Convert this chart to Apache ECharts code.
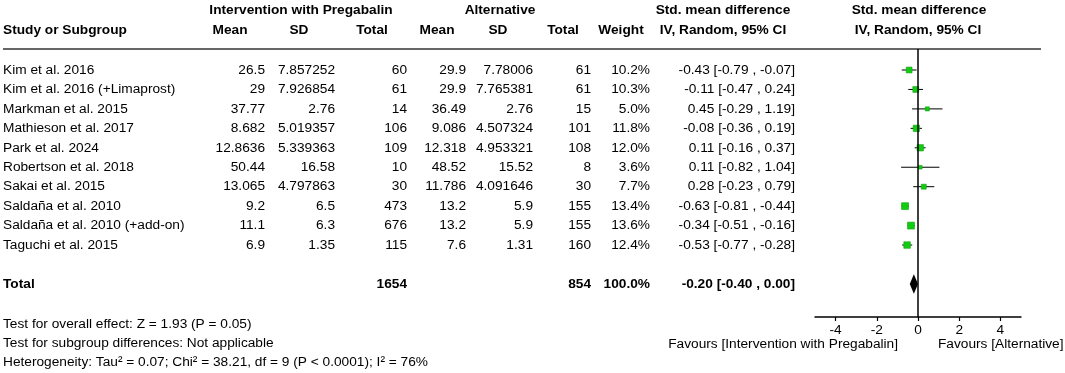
<!DOCTYPE html>
<html>
<head>
<meta charset="utf-8">
<title>Forest plot</title>
<script src="https://cdn.jsdelivr.net/npm/echarts@6.0.0/dist/echarts.min.js"></script>
<style>
  html, body { margin: 0; padding: 0; background: #fff; }
  #chart { width: 1065px; height: 373px; }
</style>
</head>
<body>
<div id="chart"></div>
<script>
// study rows
const studies = [
  "Kim et al. 2016",
  "Kim et al. 2016 (+Limaprost)",
  "Markman et al. 2015",
  "Mathieson et al. 2017",
  "Park et al. 2024",
  "Robertson et al. 2018",
  "Sakai et al. 2015",
  "Saldaña et al. 2010",
  "Saldaña et al. 2010 (+add-on)",
  "Taguchi et al. 2015"
];
const intMean = [26.5, 29, 37.77, 8.682, 12.8636, 50.44, 13.065, 9.2, 11.1, 6.9];
const intSD = [7.857252, 7.926854, 2.76, 5.019357, 5.339363, 16.58, 4.797863, 6.5, 6.3, 1.35];
const intTotal = [60, 61, 14, 106, 109, 10, 30, 473, 676, 115];
const altMean = [29.9, 29.9, 36.49, 9.086, 12.318, 48.52, 11.786, 13.2, 13.2, 7.6];
const altSD = [7.78006, 7.765381, 2.76, 4.507324, 4.953321, 15.52, 4.091646, 5.9, 5.9, 1.31];
const altTotal = [61, 61, 15, 101, 108, 8, 30, 155, 155, 160];
const weight = [10.2, 10.3, 5.0, 11.8, 12.0, 3.6, 7.7, 13.4, 13.6, 12.4];
const smd = [-0.43, -0.11, 0.45, -0.08, 0.11, 0.11, 0.28, -0.63, -0.34, -0.53];
const ciLow = [-0.79, -0.47, -0.29, -0.36, -0.16, -0.82, -0.23, -0.81, -0.51, -0.77];
const ciHigh = [-0.07, 0.24, 1.19, 0.19, 0.37, 1.04, 0.79, -0.44, -0.16, -0.28];

// pooled result
const totalIntN = 1654;
const totalAltN = 854;
const totalWeight = 100.0;
const pooled = [-0.20, -0.40, 0.00]; // est, low, high
const totalRow = 11;

const xTicks = [-4, -2, 0, 2, 4];
const footnotes = [
  "Test for overall effect: Z = 1.93 (P = 0.05)",
  "Test for subgroup differences: Not applicable",
  "Heterogeneity: Tau² = 0.07; Chi² = 38.21, df = 9 (P < 0.0001); I² = 76%"
];

const FONT = "'Liberation Sans', Arial, Helvetica, sans-serif";
const FS = 13.7;

const myChart = echarts.init(document.getElementById("chart"));

function ciText(e, l, h) {
  return e.toFixed(2) + " [" + l.toFixed(2) + " , " + h.toFixed(2) + "]";
}

myChart.setOption({
  animation: false,
  grid: { left: 815, width: 206, top: 49, height: 268 },
  xAxis: {
    type: "value",
    min: -5,
    max: 5,
    splitLine: { show: false },
    axisLine: { onZero: false, lineStyle: { color: "#000", width: 1.5 } },
    axisTick: { customValues: xTicks, length: 4, lineStyle: { color: "#000", width: 1.2 } },
    axisLabel: { customValues: xTicks, color: "#000", fontSize: FS, fontFamily: FONT, margin: 6 }
  },
  yAxis: {
    type: "value",
    inverse: true,
    min: -1.08,
    max: 12.7,
    show: false
  },
  series: [
    {
      // confidence intervals
      type: "custom",
      renderItem: function (params, api) {
        const a = api.coord([api.value(0), api.value(2)]);
        const b = api.coord([api.value(1), api.value(2)]);
        return {
          type: "line",
          shape: { x1: a[0], y1: a[1], x2: b[0], y2: b[1] },
          style: { stroke: "#000", lineWidth: 1 }
        };
      },
      data: studies.map((s, i) => [ciLow[i], ciHigh[i], i]),
      z: 2
    },
    {
      type: "scatter",
      symbol: "rect",
      symbolSize: function (v) { return 2.5 + weight[v[2]] * 0.33; },
      itemStyle: { color: "#11cc11", borderColor: "#0a9a0a", borderWidth: 0.5, opacity: 1 },
      data: studies.map((s, i) => [smd[i], i, i]),
      z: 3,
      markLine: {
        silent: true,
        symbol: "none",
        label: { show: false },
        lineStyle: { color: "#000", width: 1.5, type: "solid" },
        data: [{ xAxis: 0 }]
      }
    },
    {
      // pooled diamond
      type: "custom",
      renderItem: function (params, api) {
        const r = api.value(3);
        const left = api.coord([api.value(1), r]);
        const right = api.coord([api.value(2), r]);
        const top = api.coord([api.value(0), r - 0.5]);
        const bot = api.coord([api.value(0), r + 0.5]);
        return {
          type: "polygon",
          shape: { points: [left, top, right, bot] },
          style: { fill: "#000" }
        };
      },
      data: [[pooled[0], pooled[1], pooled[2], totalRow]],
      z: 4
    }
  ]
});

// table text placed on the same row scale
const rowY = r => myChart.convertToPixel({ yAxisIndex: 0 }, r);
const g = [];
function txt(str, x, y, align, bold) {
  g.push({
    type: "text",
    x: x, y: y,
    style: {
      text: String(str), fill: "#000",
      font: (bold ? "bold " : "") + FS + "px " + FONT,
      textAlign: align, textVerticalAlign: "middle"
    }
  });
}

// headers
txt("Intervention with Pregabalin", 301, 10, "center", true);
txt("Alternative", 500, 10, "center", true);
txt("Std. mean difference", 723, 10, "center", true);
txt("Std. mean difference", 919, 10, "center", true);
txt("Study or Subgroup", 3, 30, "left", true);
txt("Mean", 230, 30, "center", true);
txt("SD", 299, 30, "center", true);
txt("Total", 372, 30, "center", true);
txt("Mean", 437, 30, "center", true);
txt("SD", 498, 30, "center", true);
txt("Total", 563, 30, "center", true);
txt("Weight", 621, 30, "center", true);
txt("IV, Random, 95% CI", 723, 30, "center", true);
txt("IV, Random, 95% CI", 918, 30, "center", true);

g.push({
  type: "line",
  shape: { x1: 3, y1: 49, x2: 1041, y2: 49 },
  style: { stroke: "#666", lineWidth: 2 }
});

studies.forEach((s, i) => {
  const y = rowY(i);
  txt(s, 3, y, "left", false);
  txt(intMean[i], 265, y, "right", false);
  txt(intSD[i], 335, y, "right", false);
  txt(intTotal[i], 407, y, "right", false);
  txt(altMean[i], 466, y, "right", false);
  txt(altSD[i], 533, y, "right", false);
  txt(altTotal[i], 591, y, "right", false);
  txt(weight[i].toFixed(1) + "%", 650, y, "right", false);
  txt(ciText(smd[i], ciLow[i], ciHigh[i]), 795, y, "right", false);
});

const ty = rowY(totalRow);
txt("Total", 3, ty, "left", true);
txt(totalIntN, 407, ty, "right", true);
txt(totalAltN, 591, ty, "right", true);
txt(totalWeight.toFixed(1) + "%", 650, ty, "right", true);
txt(ciText(pooled[0], pooled[1], pooled[2]), 795, ty, "right", true);

footnotes.forEach((f, i) => txt(f, 3, 324 + i * 19, "left", false));

const zeroX = myChart.convertToPixel({ xAxisIndex: 0 }, 0);
txt("Favours [Intervention with Pregabalin]", zeroX - 20, 344, "right", false);
txt("Favours [Alternative]", zeroX + 20, 344, "left", false);

myChart.setOption({ graphic: g });
</script>
</body>
</html>
